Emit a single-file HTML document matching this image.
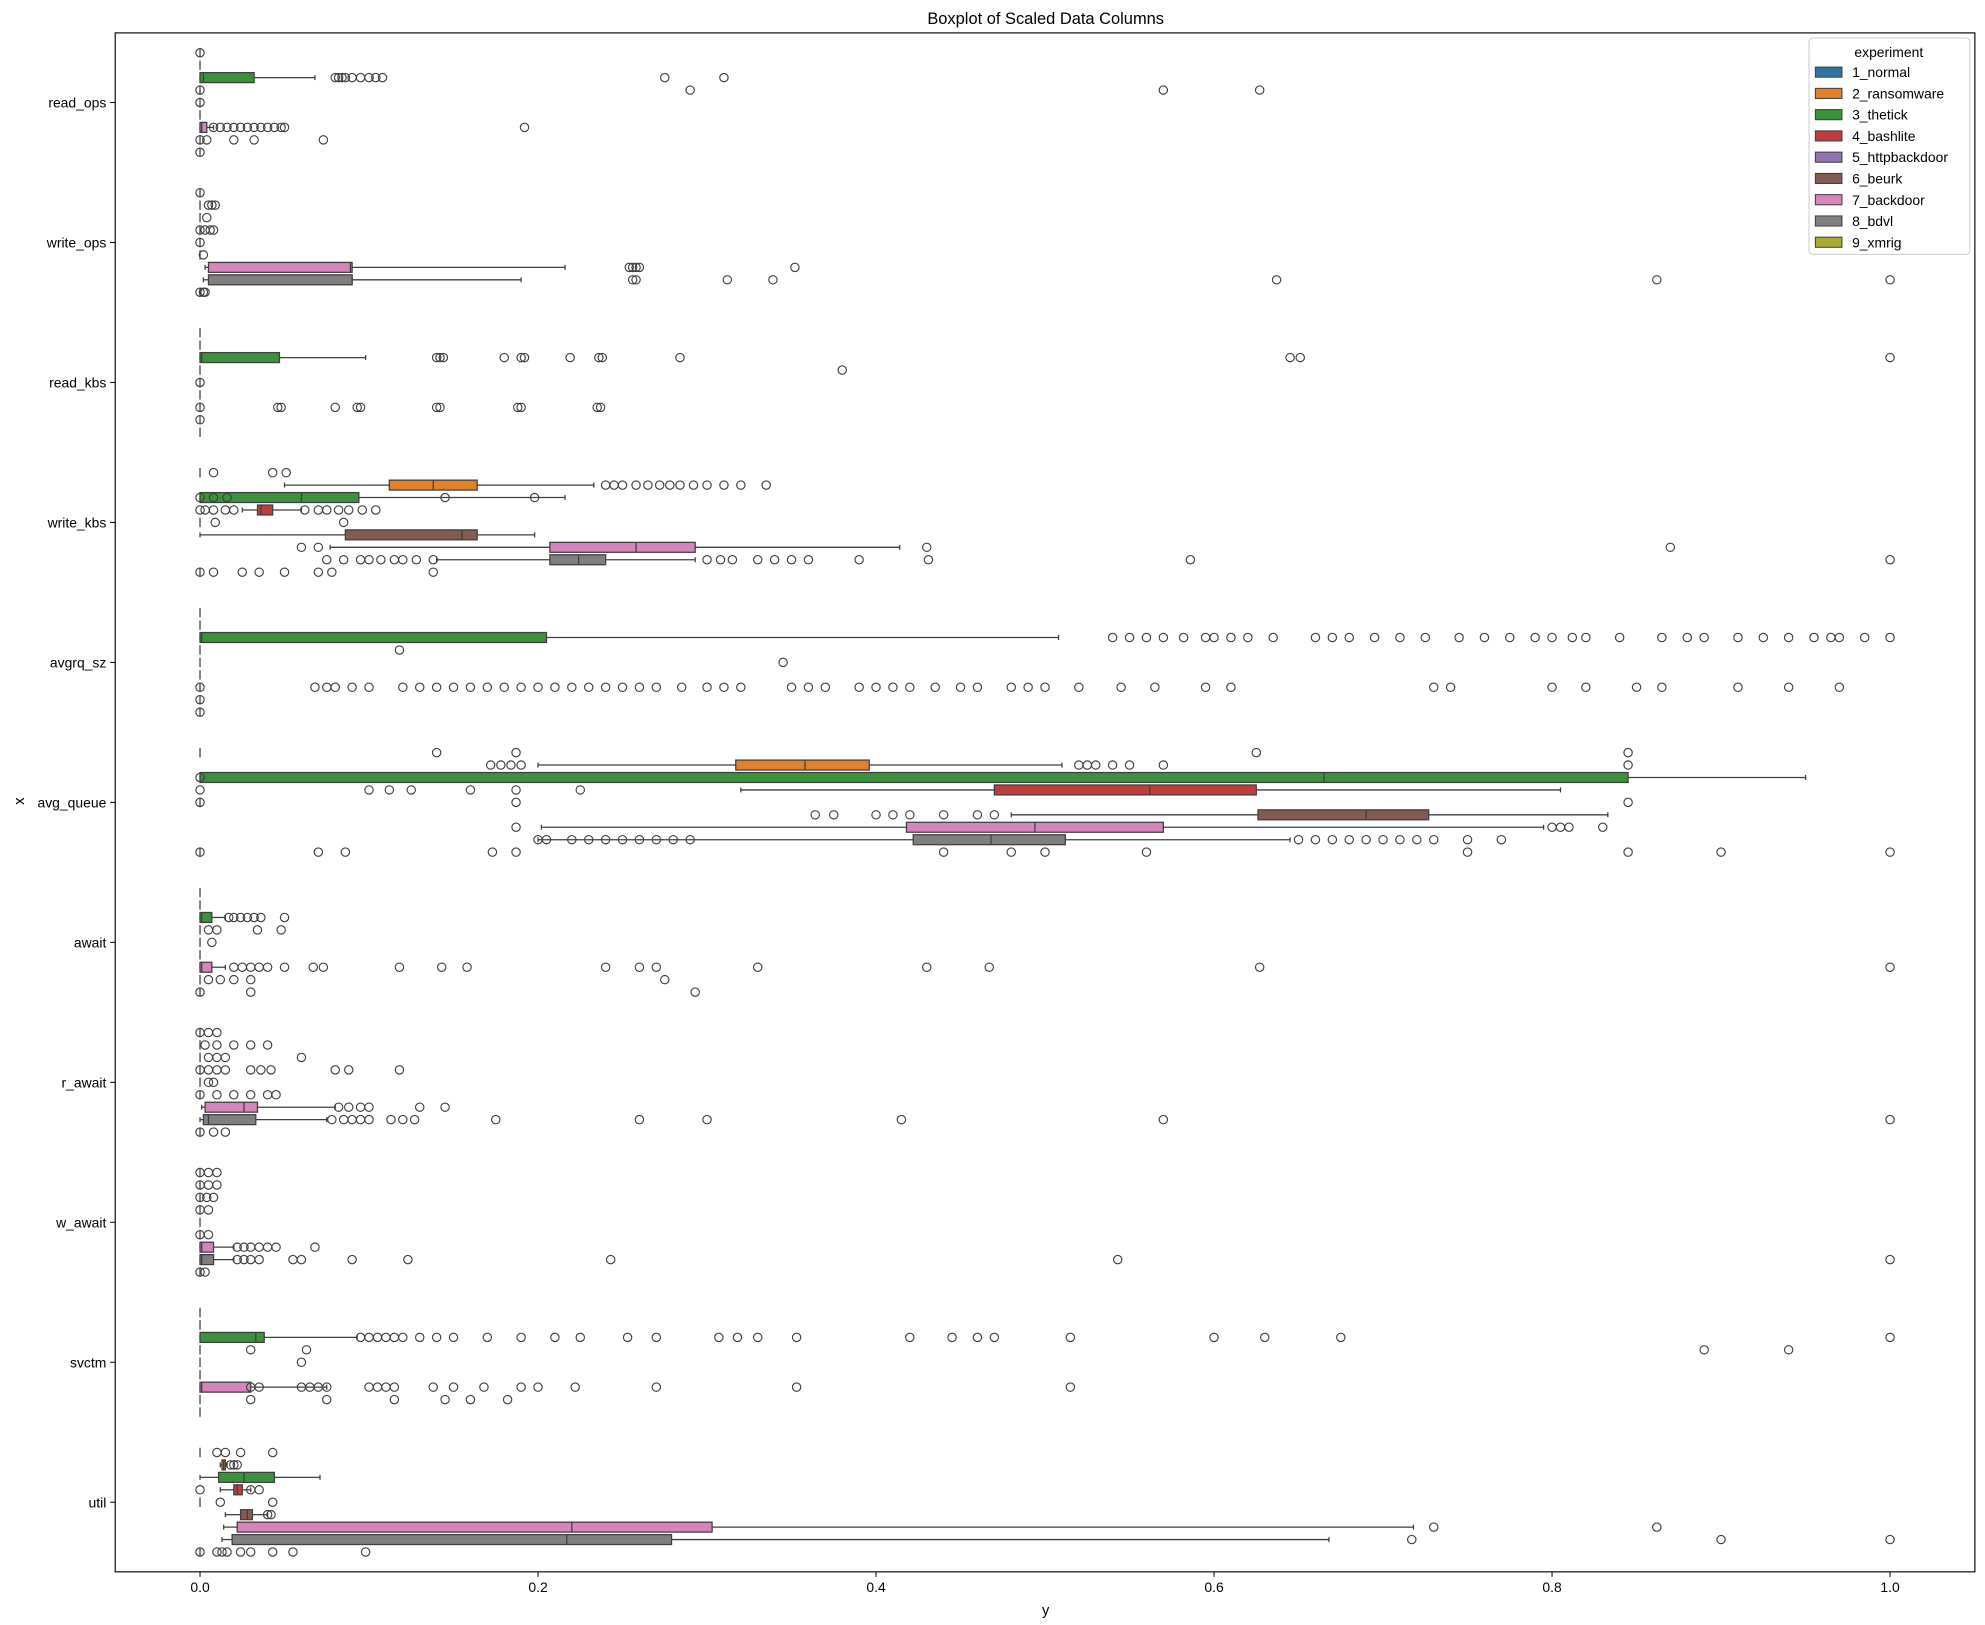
<!DOCTYPE html>
<html><head><meta charset="utf-8"><style>
html,body{margin:0;padding:0;background:#fff;}
svg{display:block;font-family:"Liberation Sans",sans-serif;}
</style></head><body>
<svg id="chart" width="1985" height="1625" viewBox="0 0 1568 1284" preserveAspectRatio="none" xmlns="http://www.w3.org/2000/svg">
<text x="826" y="19" font-size="13" text-anchor="middle">Boxplot of Scaled Data Columns</text>
<g id="plot"></g>
<rect x="91" y="26" width="1469" height="1216" fill="none" stroke="#000" stroke-width="0.9"/>
<text x="826" y="1276" font-size="11.5" text-anchor="middle">y</text>
<text x="15" y="637" font-size="11.5" text-anchor="middle" transform="rotate(-90 15 633)">x</text>
<g id="legend"></g>
</svg>
<script>
const categories = ['read_ops','write_ops','read_kbs','write_kbs','avgrq_sz','avg_queue','await','r_await','w_await','svctm','util'];
const hues = ['1_normal','2_ransomware','3_thetick','4_bashlite','5_httpbackdoor','6_beurk','7_backdoor','8_bdvl','9_xmrig'];
const xTicks = [0.0,0.2,0.4,0.6,0.8,1.0];
const xTickLabels = ['0.0','0.2','0.4','0.6','0.8','1.0'];
// [category, hue, whislo, q1, median, q3, whishi]
const boxes = [
 [0,2,0,0,0.002,0.032,0.068],[0,6,0,0,0.001,0.004,0.008],
 [1,6,0.003,0.005,0.089,0.09,0.216],[1,7,0.002,0.005,0.09,0.09,0.19],
 [2,2,0,0,0.001,0.047,0.098],
 [3,1,0.05,0.112,0.138,0.164,0.233],[3,2,0,0,0.06,0.094,0.216],[3,3,0.025,0.034,0.036,0.043,0.06],[3,5,0,0.086,0.155,0.164,0.198],[3,6,0.077,0.207,0.258,0.293,0.414],[3,7,0.14,0.207,0.224,0.24,0.293],
 [4,2,0,0,0.001,0.205,0.508],
 [5,1,0.2,0.317,0.358,0.396,0.51],[5,2,0,0,0.665,0.845,0.95],[5,3,0.32,0.47,0.562,0.625,0.805],[5,5,0.48,0.626,0.69,0.727,0.833],[5,6,0.202,0.418,0.494,0.57,0.795],[5,7,0.2,0.422,0.468,0.512,0.645],
 [6,2,0,0,0.001,0.007,0.015],[6,6,0,0,0.001,0.007,0.015],
 [7,6,0.001,0.003,0.026,0.034,0.08],[7,7,0,0.002,0.005,0.033,0.075],
 [8,6,0,0,0.001,0.008,0.02],[8,7,0,0,0.001,0.008,0.02],
 [9,2,0,0,0.033,0.038,0.093],[9,6,0,0,0.001,0.03,0.075],
 [10,1,0.012,0.013,0.014,0.015,0.016],[10,2,0,0.011,0.026,0.044,0.071],[10,3,0.012,0.02,0.022,0.025,0.03],[10,5,0.015,0.024,0.028,0.031,0.04],[10,6,0.014,0.022,0.22,0.303,0.718],[10,7,0.013,0.019,0.217,0.279,0.668]
];
// [category, hue, outlier values]
const fliers = [
 [0,0,[0]],[0,2,[0.08,0.082,0.084,0.086,0.09,0.095,0.1,0.104,0.108,0.275,0.31]],[0,3,[0,0.29,0.57,0.627]],[0,4,[0]],
 [0,6,[0.008,0.012,0.016,0.02,0.024,0.028,0.032,0.036,0.04,0.044,0.048,0.05,0.192]],[0,7,[0,0.004,0.02,0.032,0.073]],[0,8,[0]],
 [1,0,[0]],[1,1,[0.005,0.007,0.009]],[1,2,[0.004]],[1,3,[0,0.003,0.006,0.008]],[1,4,[0]],[1,5,[0.002]],
 [1,6,[0.254,0.256,0.258,0.26,0.352]],[1,7,[0.256,0.258,0.312,0.339,0.637,0.862,1.0]],[1,8,[0,0.002,0.003]],
 [2,2,[0.14,0.142,0.144,0.18,0.19,0.192,0.219,0.236,0.238,0.284,0.645,0.651,1.0]],[2,3,[0.38]],[2,4,[0]],
 [2,6,[0,0.046,0.048,0.08,0.093,0.095,0.14,0.142,0.188,0.19,0.235,0.237]],[2,7,[0]],
 [3,0,[0.008,0.043,0.051]],[3,1,[0.24,0.245,0.25,0.258,0.265,0.272,0.278,0.284,0.292,0.3,0.31,0.32,0.335]],
 [3,2,[0,0.008,0.016,0.145,0.198]],[3,3,[0,0.003,0.008,0.015,0.02,0.062,0.07,0.075,0.082,0.088,0.096,0.104]],[3,4,[0.009,0.085]],
 [3,6,[0.06,0.07,0.43,0.87]],
 [3,7,[0.075,0.085,0.095,0.1,0.107,0.115,0.12,0.128,0.138,0.3,0.308,0.315,0.33,0.34,0.35,0.36,0.39,0.431,0.586,1.0]],
 [3,8,[0,0.008,0.025,0.035,0.05,0.07,0.078,0.138]],
 [4,2,[0.54,0.55,0.56,0.57,0.582,0.595,0.6,0.61,0.62,0.635,0.66,0.67,0.68,0.695,0.71,0.725,0.745,0.76,0.775,0.79,0.8,0.812,0.82,0.84,0.865,0.88,0.89,0.91,0.925,0.94,0.955,0.965,0.97,0.985,1.0]],
 [4,3,[0.118]],[4,4,[0.345]],
 [4,6,[0,0.068,0.075,0.08,0.09,0.1,0.12,0.13,0.14,0.15,0.16,0.17,0.18,0.19,0.2,0.21,0.22,0.23,0.24,0.25,0.26,0.27,0.285,0.3,0.31,0.32,0.35,0.36,0.37,0.39,0.4,0.41,0.42,0.435,0.45,0.46,0.48,0.49,0.5,0.52,0.545,0.565,0.595,0.61,0.73,0.74,0.8,0.82,0.85,0.865,0.91,0.94,0.97]],
 [4,7,[0]],[4,8,[0]],
 [5,0,[0.14,0.187,0.625,0.845]],[5,1,[0.172,0.178,0.184,0.19,0.52,0.525,0.53,0.54,0.55,0.57,0.845]],
 [5,2,[0]],[5,3,[0,0.1,0.112,0.125,0.16,0.187,0.225]],[5,4,[0,0.187,0.845]],
 [5,5,[0.364,0.375,0.4,0.41,0.42,0.44,0.46,0.47]],[5,6,[0.187,0.8,0.805,0.81,0.83]],
 [5,7,[0.2,0.205,0.22,0.23,0.24,0.25,0.26,0.27,0.28,0.29,0.65,0.66,0.67,0.68,0.69,0.7,0.71,0.72,0.73,0.75,0.77]],
 [5,8,[0,0.07,0.086,0.173,0.187,0.44,0.48,0.5,0.56,0.75,0.845,0.9,1.0]],
 [6,2,[0.017,0.02,0.024,0.028,0.032,0.036,0.05]],[6,3,[0.005,0.01,0.034,0.048]],[6,4,[0.007]],
 [6,6,[0.02,0.025,0.03,0.035,0.04,0.05,0.067,0.073,0.118,0.143,0.158,0.24,0.26,0.27,0.33,0.43,0.467,0.627,1.0]],
 [6,7,[0.005,0.012,0.02,0.03,0.275]],[6,8,[0,0.03,0.293]],
 [7,0,[0,0.005,0.01]],[7,1,[0.003,0.01,0.02,0.03,0.04]],[7,2,[0.005,0.01,0.015,0.06]],
 [7,3,[0,0.005,0.01,0.015,0.03,0.036,0.042,0.08,0.088,0.118]],[7,4,[0.005,0.008]],[7,5,[0,0.01,0.02,0.03,0.04,0.045]],
 [7,6,[0.082,0.088,0.095,0.1,0.13,0.145]],
 [7,7,[0.078,0.085,0.09,0.095,0.1,0.113,0.12,0.127,0.175,0.26,0.3,0.415,0.57,1.0]],[7,8,[0,0.008,0.015]],
 [8,0,[0,0.005,0.01]],[8,1,[0,0.005,0.01]],[8,2,[0,0.004,0.008]],[8,3,[0,0.005]],[8,5,[0,0.005]],
 [8,6,[0.022,0.026,0.03,0.035,0.04,0.045,0.068]],
 [8,7,[0.022,0.026,0.03,0.035,0.055,0.06,0.09,0.123,0.243,0.543,1.0]],[8,8,[0,0.003]],
 [9,2,[0.095,0.1,0.105,0.11,0.115,0.12,0.13,0.14,0.15,0.17,0.19,0.21,0.225,0.253,0.27,0.307,0.318,0.33,0.353,0.42,0.445,0.46,0.47,0.515,0.6,0.63,0.675,1.0]],
 [9,3,[0.03,0.063,0.89,0.94]],[9,4,[0.06]],
 [9,6,[0.03,0.035,0.06,0.065,0.07,0.075,0.1,0.105,0.11,0.115,0.138,0.15,0.168,0.19,0.2,0.222,0.27,0.353,0.515]],
 [9,7,[0.03,0.075,0.115,0.145,0.16,0.182]],
 [10,0,[0.01,0.015,0.024,0.043]],[10,1,[0.018,0.02,0.022]],[10,3,[0,0.03,0.035]],[10,4,[0.012,0.043]],
 [10,5,[0.04,0.042]],[10,6,[0.73,0.862]],[10,7,[0.717,0.9,1.0]],[10,8,[0,0.01,0.013,0.016,0.024,0.03,0.043,0.055,0.098]]
];
const hueColors = ['#3274a1','#e1812c','#3a923a','#c03d3e','#9372b2','#845b53','#d684bd','#7f7f7f','#a9aa35'];

const NS='http://www.w3.org/2000/svg';
const plot=document.getElementById('plot');
const X0=158, XS=1335, Y0=81, YS=110.6, SLOT=YS*0.8/9;
function xp(v){return X0+v*XS;}
function yc(c){return Y0+c*YS;}
function ys(c,h){return yc(c)+(h-4)*SLOT;}
function mk(tag,attrs,parent){const e=document.createElementNS(NS,tag);for(const k in attrs)e.setAttribute(k,attrs[k]);(parent||plot).appendChild(e);return e;}
const EDGE='#3f3f3f';

// x ticks
xTicks.forEach((t,i)=>{
  const g=mk('g',{});
  
  
  mk('line',{x1:xp(t),x2:xp(t),y1:1242,y2:1246,stroke:'#000','stroke-width':0.8},g);
  const tx=mk('text',{x:xp(t),y:1258,'font-size':11,'text-anchor':'middle'},g);
  tx.textContent=xTickLabels[i];
});
// y ticks
categories.forEach((c,i)=>{
  const g=mk('g',{});
  
  
  mk('line',{x1:87,x2:91,y1:yc(i),y2:yc(i),stroke:'#000','stroke-width':0.8},g);
  const tx=mk('text',{x:84,y:yc(i)+4,'font-size':11,'text-anchor':'end'},g);
  tx.textContent=c;
});

// zero-width boxes for slots without a box
const hasBox={};
boxes.forEach(b=>{hasBox[b[0]+'_'+b[1]]=1;});
categories.forEach((c,ci)=>{hues.forEach((h,hi)=>{
  if(hasBox[ci+'_'+hi])return;
  const y=ys(ci,hi);
  const l=mk('line',{x1:xp(0),x2:xp(0),y1:y-SLOT*0.38,y2:y+SLOT*0.38,stroke:EDGE,'stroke-width':1});
  
  
});});

// boxes
boxes.forEach(b=>{
  const [ci,hi,lo,q1,md,q3,hw]=b;
  const y=ys(ci,hi), hh=SLOT*0.4;
  const g=mk('g',{});
  
  
  mk('line',{x1:xp(lo),x2:xp(q1),y1:y,y2:y,stroke:EDGE,'stroke-width':1},g);
  mk('line',{x1:xp(q3),x2:xp(hw),y1:y,y2:y,stroke:EDGE,'stroke-width':1},g);
  mk('line',{x1:xp(lo),x2:xp(lo),y1:y-hh/2,y2:y+hh/2,stroke:EDGE,'stroke-width':1},g);
  mk('line',{x1:xp(hw),x2:xp(hw),y1:y-hh/2,y2:y+hh/2,stroke:EDGE,'stroke-width':1},g);
  mk('rect',{x:xp(q1),y:y-hh,width:Math.max(0.5,xp(q3)-xp(q1)),height:hh*2,fill:hueColors[hi],stroke:EDGE,'stroke-width':1},g);
  mk('line',{x1:xp(md),x2:xp(md),y1:y-hh,y2:y+hh,stroke:EDGE,'stroke-width':1},g);
});

// outliers
fliers.forEach(f=>{
  const [ci,hi,vals]=f;
  const y=ys(ci,hi);
  vals.forEach(v=>{
    const c=mk('circle',{cx:xp(v),cy:y,r:3.3,fill:'none',stroke:EDGE,'stroke-width':0.9});
    
    
  });
});

// legend
const lg=document.getElementById('legend');
mk('rect',{x:1429,y:30,width:127,height:171,rx:3,fill:'#fff','fill-opacity':0.8,stroke:'#ccc','stroke-width':0.8},lg);
const lt=mk('text',{x:1492,y:45,'font-size':11,'text-anchor':'middle'},lg);
lt.textContent='experiment';
hues.forEach((h,i)=>{
  const g=mk('g',{},lg);
  
  
  const y=57+i*16.8;
  mk('rect',{x:1434,y:y-4,width:21,height:8,fill:hueColors[i],stroke:EDGE,'stroke-width':0.8},g);
  const t=mk('text',{x:1463,y:y+4,'font-size':11},g);
  t.textContent=h;
});
</script>
</body></html>
